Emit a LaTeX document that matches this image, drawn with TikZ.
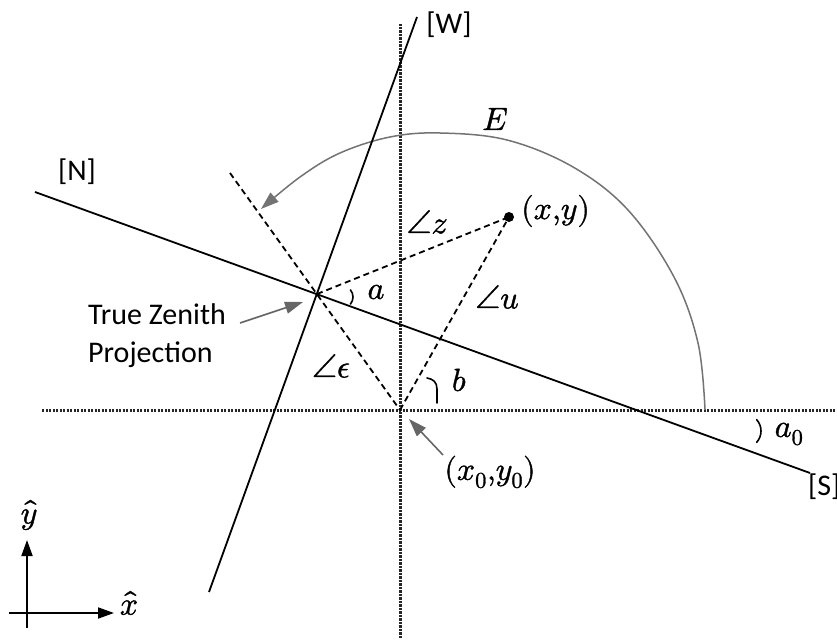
\documentclass[tikz,border=0pt]{standalone}
\usepackage{fontspec}
\usepackage{unicode-math}
\setsansfont{Carlito}
\setmathfont{Latin Modern Math}[FakeBold=1.2]
\usetikzlibrary{arrows.meta}
\begin{document}
\begin{tikzpicture}[x=1pt,y=1pt,
  solidl/.style={line width=1.8pt, black},
  dashl/.style={line width=1.8pt, black, dash pattern=on 6pt off 4pt},
  dotl/.style={line width=3pt, black!85, dash pattern=on 2.2pt off 1.3pt},
  grayarr/.style={line width=1.6pt, black!60, -{Triangle[length=18pt,width=12pt]}},
  blackarr/.style={line width=1.8pt, black, -{Triangle[length=16pt,width=11pt]}},
  anglemark/.style={line width=1.6pt, black, line cap=round},
  mlabel/.style={font=\fontsize{32}{38}\selectfont, inner sep=0pt},
  slabel/.style={font=\sffamily\fontsize{30}{38}\selectfont, inner sep=0pt},
]
\useasboundingbox (0,0) rectangle (837,641);
% key points
\coordinate (O) at (400,231);
\coordinate (Z) at (317,347);
\coordinate (P) at (509,424);
\coordinate (Nend) at (35,449);
\coordinate (Send) at (810,168);
\coordinate (Wtop) at (417,624);
\coordinate (Wbot) at (209,49);
\coordinate (Dup) at (230,468);
\coordinate (Vtop) at (400,617);
\coordinate (Vbot) at (400,3);
\coordinate (Hl) at (42,231);
\coordinate (Hr) at (837,231);
% axes (dotted)
\draw[dotl] (Vbot) -- (Vtop);
\draw[dotl] (Hl) -- (Hr);
% E arc
\draw[line width=1.5pt, black!55, -{Triangle[length=18pt,width=12pt]}]
  plot[smooth, tension=0.6] coordinates {(705,231) (698,298) (674,364) (628,431) (573,474) (507,501) (440,508) (390,504) (340,488) (300,464) (261,432)};
% solid lines
\draw[solidl] (Nend) -- (Send);
\draw[solidl] (Wbot) -- (Wtop);
% dashed lines
\draw[dashl] (Dup) -- (O);
\draw[dashl] (Z) -- (P);
\draw[dashl] (O) -- (P);
\fill (P) circle (5pt);
% angle marks
\coordinate (am) at (342,344);
\draw[anglemark] (am) ++(-40:11pt) arc[start angle=-40, end angle=40, radius=11pt];
\coordinate (a0m) at (744,210);
\draw[anglemark] (a0m) ++(-42:17pt) arc[start angle=-42, end angle=42, radius=17pt];
\coordinate (bm) at (427,263);
\draw[anglemark] (bm) .. controls (433,262) and (437,259) .. (437,252) -- (437,238);
% labels
\node[slabel, anchor=center] (Wl) at (449,616) {[W]};
\node[slabel, anchor=center] (Nl) at (77,469) {[N]};
\node[slabel, anchor=west] (Sl) at (808,154) {[S]};
\node[mlabel] (El) at (495,522) {$E$};
\node[mlabel, anchor=west] (Pl) at (521,430) {$(x{,}y)$};
\node[mlabel] (zl) at (427,419) {$\angle z$};
\node[mlabel] (al) at (376,349) {$a$};
\node[mlabel] (ul) at (497,344) {$\angle u$};
\node[mlabel] (bl) at (459,261) {$b$};
\node[mlabel] (el) at (331,275) {$\angle\epsilon$};
\node[mlabel] (a0l) at (789,207) {$a_0$};
\node[mlabel] (Ol) at (490,169) {$(x_0{,}y_0)$};
\node[slabel, align=left, anchor=west] (TZ) at (88,305) {True Zenith\\Projection};
% pointer arrows
\coordinate (TZs) at (240,318);
\coordinate (TZe) at (303,339);
\draw[grayarr] (TZs) -- (TZe);
\coordinate (Os) at (443,186);
\coordinate (Oe) at (409,222);
\draw[grayarr] (Os) -- (Oe);
% unit vectors
\coordinate (ax0) at (27,28);
\coordinate (axl) at (9,28);
\coordinate (axb) at (27,13);
\coordinate (axx) at (114,28);
\coordinate (axy) at (27,101);
\draw[solidl] (axl) -- (ax0);
\draw[solidl] (axb) -- (ax0);
\draw[blackarr] (ax0) -- (axx);
\draw[blackarr] (ax0) -- (axy);
\node[mlabel] (xh) at (129,38) {$\hat{x}$};
\node[mlabel] (yh) at (29,126) {$\hat{y}$};
\end{tikzpicture}
\end{document}
